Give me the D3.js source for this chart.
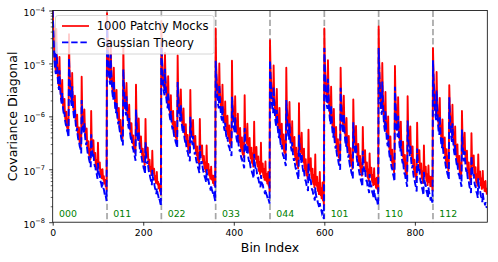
<!DOCTYPE html>
<html>
<head>
<meta charset="utf-8">
<script src="https://cdn.jsdelivr.net/npm/d3@7"></script>
<style>
  body { margin: 0; background: #fff; }
  svg { display: block; font-family: "DejaVu Sans", sans-serif; }
</style>
</head>
<body>
<svg id="chart" width="498" height="262"></svg>
<script>
// covariance diagonal per multipole block, stored as -100 * log10(value)
// (120 bins per block)
const mocks000 = [398,424,450,472,490,502,509,514,435,480,502,520,532,539,544,488,528,546,558,566,570,531,568,580,587,592,567,598,605,610,591,617,622,605,629,615,
  445,508,530,548,560,567,572,518,556,574,586,594,598,561,596,608,615,620,597,626,633,638,621,645,650,635,657,645,
  525,581,599,611,618,623,587,620,632,640,644,623,650,658,662,647,670,674,662,682,671,
  590,640,652,659,664,645,670,677,682,669,689,694,683,701,693,
  650,686,693,698,687,705,710,701,717,711,
  700,715,720,713,727,723,
  720,732,730,
  738];
const theory000 = [400,430,456,478,496,508,515,520,460,486,508,526,538,545,550,513,534,552,564,572,576,556,574,586,593,598,592,604,611,616,616,623,628,630,635,640,
  490,516,538,556,568,575,580,543,564,582,594,602,606,586,604,616,623,628,622,634,641,646,646,653,658,660,665,670,
  569,591,609,621,628,633,612,630,642,650,654,648,660,668,672,672,680,684,687,692,696,
  634,652,664,671,676,670,682,689,694,694,701,706,708,713,718,
  688,700,707,712,712,719,724,726,731,736,
  724,731,736,738,743,748,
  746,750,755,
  760];
const mocks011 = [405,446,471,492,509,521,527,532,458,500,521,538,549,556,561,508,546,563,575,581,586,550,584,595,602,607,584,613,619,624,607,631,636,621,642,630,
  465,527,547,565,576,583,588,537,573,590,601,608,613,578,611,622,629,634,613,639,646,651,636,658,662,650,669,659,
  540,596,613,625,632,636,604,634,645,652,657,638,663,669,674,661,681,686,675,692,684,
  605,653,664,671,676,659,681,688,693,682,700,704,696,711,705,
  665,697,703,708,699,715,720,713,726,722,
  705,724,729,724,736,734,
  728,741,740,
  748];
const theory011 = [425,454,479,500,517,529,535,540,483,508,529,546,557,564,569,533,554,571,583,589,594,575,592,603,610,615,609,621,627,632,632,639,644,646,650,655,
  511,537,557,575,586,593,598,562,583,600,611,618,623,603,621,632,639,644,638,649,656,661,661,668,672,675,679,684,
  587,608,625,637,644,648,629,646,657,664,669,663,675,681,686,686,693,698,700,704,709,
  649,667,678,685,690,684,695,702,707,707,714,718,721,725,730,
  701,713,719,724,724,731,736,738,742,747,
  736,742,747,749,754,759,
  756,761,765,
  770];
const mocks022 = [420,475,497,515,530,540,546,550,480,522,540,555,565,571,575,524,562,577,587,593,597,560,595,605,611,615,590,620,626,630,610,636,640,622,646,630,
  485,545,563,578,588,594,598,549,585,600,610,616,620,585,618,628,634,638,615,643,649,653,635,659,663,647,669,655,
  550,605,620,630,636,640,607,638,648,654,658,637,663,669,673,657,679,683,669,689,677,
  605,654,664,670,674,655,679,685,689,675,695,699,687,705,695,
  655,692,698,702,690,708,712,702,718,710,
  695,716,720,712,726,720,
  712,730,726,
  732];
const theory022 = [460,485,507,525,540,550,556,560,510,532,550,565,575,581,585,554,572,587,597,603,607,590,605,615,621,625,620,630,636,640,640,646,650,652,656,660,
  535,557,575,590,600,606,610,579,597,612,622,628,632,615,630,640,646,650,645,655,661,665,665,671,675,677,681,685,
  601,619,634,644,650,654,637,652,662,668,672,667,677,683,687,687,693,697,699,703,707,
  655,670,680,686,690,685,695,701,705,705,711,715,717,721,725,
  700,710,716,720,720,726,730,732,736,740,
  730,736,740,742,746,750,
  748,752,756,
  760];
const mocks033 = [434,503,522,539,552,561,566,570,500,545,561,575,584,589,593,540,581,594,603,609,612,572,611,620,625,629,599,633,638,642,617,647,651,628,656,635,
  495,565,582,595,604,609,613,562,601,615,624,629,633,595,631,640,645,649,622,654,659,663,640,668,672,650,677,658,
  560,619,633,642,647,651,614,649,658,663,667,641,671,677,680,659,686,689,670,695,677,
  610,663,672,677,681,658,686,691,695,676,700,704,686,709,694,
  650,697,702,706,689,711,715,700,720,707,
  685,718,722,709,727,716,
  705,731,721,
  742];
const theory033 = [495,518,537,554,567,576,581,585,540,560,576,590,599,604,608,580,596,609,618,624,627,612,626,635,640,644,639,648,653,657,657,662,666,668,671,675,
  563,582,599,612,621,626,630,602,618,632,641,646,650,635,648,657,662,666,662,671,676,680,680,685,689,690,694,698,
  622,638,652,661,666,670,654,668,677,682,686,681,690,696,699,699,705,708,710,714,717,
  671,684,693,698,702,698,707,712,716,716,721,725,726,730,734,
  711,720,725,729,729,734,738,740,743,747,
  738,743,747,749,752,756,
  754,758,761,
  765];
const mocks044 = [456,504,526,544,559,569,575,579,504,551,569,584,594,600,604,548,591,606,616,622,626,584,624,634,640,644,614,649,655,659,634,665,669,646,675,654,
  508,574,592,607,617,623,627,573,614,629,639,645,649,609,647,657,663,667,639,672,678,682,659,688,692,671,698,679,
  575,634,649,659,665,669,631,667,677,683,687,661,692,698,702,681,708,712,693,718,701,
  625,683,693,699,703,679,708,714,718,699,724,728,711,734,719,
  672,721,727,731,714,737,741,726,747,734,
  705,745,749,736,755,744,
  725,759,750,
  768];
const theory044 = [494,519,541,559,574,584,590,594,544,566,584,599,609,615,619,588,606,621,631,637,641,624,639,649,655,659,654,664,670,674,674,680,684,686,690,694,
  569,591,609,624,634,640,644,613,631,646,656,662,666,649,664,674,680,684,679,689,695,699,699,705,709,711,715,719,
  635,653,668,678,684,688,671,686,696,702,706,701,711,717,721,721,727,731,733,737,741,
  689,704,714,720,724,719,729,735,739,739,745,749,751,755,759,
  734,744,750,754,754,760,764,766,770,774,
  764,770,774,776,780,784,
  782,786,790,
  794];
const mocks101 = [434,488,513,534,551,563,569,574,494,542,563,580,591,598,603,544,588,605,617,623,628,586,626,637,644,649,620,655,661,666,643,673,678,657,684,666,
  508,557,578,595,606,613,618,561,603,620,632,638,643,603,641,652,659,664,637,670,676,681,660,688,693,674,699,683,
  568,616,633,645,651,656,618,654,665,672,677,652,683,689,694,675,701,706,689,712,698,
  620,664,675,682,687,664,693,699,704,687,711,716,701,722,710,
  670,701,707,712,697,719,724,711,730,720,
  698,724,729,718,735,727,
  716,737,731,
  742];
const theory101 = [471,500,525,546,563,575,581,586,529,554,575,592,603,610,615,579,600,617,629,635,640,621,638,649,656,661,655,667,673,678,678,685,690,692,696,701,
  546,571,592,609,620,627,632,596,617,634,646,652,657,638,655,666,673,678,672,684,690,695,695,702,707,709,713,718,
  611,632,649,661,667,672,653,670,681,688,693,687,699,705,710,710,717,722,724,728,733,
  665,682,693,700,705,699,711,717,722,722,729,734,736,740,745,
  709,721,727,732,732,739,744,746,750,755,
  739,746,751,753,757,762,
  757,761,766,
  769];
const mocks110 = [430,491,518,541,560,572,580,585,499,550,572,591,604,611,617,554,600,619,632,639,644,600,642,654,662,667,638,673,681,686,663,693,698,678,706,688,
  505,558,580,599,612,619,625,564,608,627,640,647,652,610,650,662,670,675,648,681,689,694,673,701,706,688,714,698,
  562,615,634,647,654,659,619,657,669,677,682,657,688,696,701,682,708,713,697,721,707,
  612,662,674,682,687,664,693,701,706,689,713,718,704,726,714,
  655,697,705,710,695,717,722,710,730,720,
  693,719,724,714,732,724,
  714,732,726,
  740];
const theory110 = [471,503,530,553,572,584,592,597,534,562,584,603,616,623,629,589,612,631,644,651,656,635,654,666,674,679,673,685,693,698,698,705,710,713,718,723,
  544,572,594,613,626,633,639,599,622,641,654,661,666,645,664,676,684,689,683,695,703,708,708,715,720,723,728,733,
  608,631,650,663,670,675,654,673,685,693,698,692,704,712,717,717,724,729,732,737,742,
  661,680,692,700,705,699,711,719,724,724,731,736,739,744,749,
  705,717,725,730,730,737,742,745,750,755,
  734,741,746,749,754,759,
  751,756,761,
  763];
const mocks112 = [471,510,535,555,572,584,590,595,516,563,584,601,612,619,623,565,609,626,637,644,648,606,646,657,664,668,640,674,681,685,662,692,697,676,703,685,
  541,574,595,612,623,630,634,578,620,637,648,655,659,619,657,668,675,679,653,685,692,696,675,703,708,689,714,698,
  590,630,647,658,665,669,631,667,678,685,689,665,695,702,706,687,713,718,701,724,710,
  632,674,685,692,696,674,702,709,713,696,720,725,710,731,719,
  672,708,715,719,704,726,731,718,737,727,
  703,730,735,724,741,733,
  722,742,736,
  748];
const theory112 = [494,522,547,567,584,596,602,607,551,575,596,613,624,631,635,600,621,638,649,656,660,641,658,669,676,680,675,686,693,697,697,704,709,711,715,720,
  564,588,609,626,637,644,648,613,634,651,662,669,673,654,671,682,689,693,688,699,706,710,710,717,722,724,728,733,
  625,646,663,674,681,685,666,683,694,701,705,700,711,718,722,722,729,734,736,740,745,
  675,692,703,710,714,709,720,727,731,731,738,743,745,749,754,
  717,728,735,739,739,746,751,753,757,762,
  745,752,757,759,763,768,
  762,766,771,
  773];

const blockLabels = ["000", "011", "022", "033", "044", "101", "110", "112"];
const binsPerBlock = 120;
const xTicks = [0, 200, 400, 600, 800];
const yTickExps = [-8, -7, -6, -5, -4];

const mocksAll = [mocks000, mocks011, mocks022, mocks033, mocks044, mocks101, mocks110, mocks112]
  .flat().map((v) => Math.pow(10, -v / 100));
const theoryAll = [theory000, theory011, theory022, theory033, theory044, theory101, theory110, theory112]
  .flat().map((v) => Math.pow(10, -v / 100));

const width = 498;
const height = 262;
const margin = { top: 10.5, right: 10.7, bottom: 39.8, left: 52.7 };
const plotW = width - margin.left - margin.right;
const plotH = height - margin.top - margin.bottom;
const lineW = 1.9;
const dash = "7,3";

const svg = d3.select("#chart");

const x = d3.scaleLinear().domain([0, blockLabels.length * binsPerBlock]).range([margin.left, margin.left + plotW]);
const y = d3.scaleLog().domain([1e-8, 1e-4]).range([margin.top + plotH, margin.top]);

svg.append("defs").append("clipPath").attr("id", "plot-clip")
  .append("rect")
  .attr("x", margin.left).attr("y", margin.top)
  .attr("width", plotW).attr("height", plotH);

// block separators
const seps = d3.range(1, blockLabels.length).map((b) => b * binsPerBlock);
svg.append("g")
  .selectAll("line")
  .data(seps)
  .enter()
  .append("line")
  .attr("x1", (d) => x(d)).attr("x2", (d) => x(d))
  .attr("y1", margin.top).attr("y2", margin.top + plotH)
  .attr("stroke", "#808080")
  .attr("stroke-opacity", 0.7)
  .attr("stroke-width", 1.7)
  .attr("stroke-dasharray", "6.4,2.8");

const line = d3.line()
  .x((d, i) => x(i))
  .y((d) => y(d));

const plot = svg.append("g").attr("clip-path", "url(#plot-clip)");

plot.append("path")
  .datum(mocksAll)
  .attr("d", line)
  .attr("fill", "none")
  .attr("stroke", "#ff0000")
  .attr("stroke-width", lineW)
  .attr("stroke-linejoin", "round");

plot.append("path")
  .datum(theoryAll)
  .attr("d", line)
  .attr("fill", "none")
  .attr("stroke", "#0000ff")
  .attr("stroke-width", lineW)
  .attr("stroke-dasharray", dash);

// block labels
svg.append("g")
  .selectAll("text")
  .data(blockLabels)
  .enter()
  .append("text")
  .attr("x", (d, i) => x(i * binsPerBlock + 14))
  .attr("y", y(1.25e-8))
  .attr("fill", "green")
  .attr("font-size", "9.4px")
  .text((d) => d);

// axes
const xAxis = d3.axisBottom(x)
  .tickValues(xTicks)
  .tickSize(3.5)
  .tickSizeOuter(0)
  .tickPadding(3.5)
  .tickFormat(d3.format("d"));

const gx = svg.append("g")
  .attr("transform", `translate(0,${margin.top + plotH})`)
  .call(xAxis);
gx.select(".domain").remove();
gx.selectAll("line").attr("stroke", "#000").attr("stroke-width", 0.8);
gx.selectAll("text")
  .attr("font-family", "DejaVu Sans")
  .attr("font-size", "9.3px")
  .attr("fill", "#000");

const minorY = [];
for (let e = -8; e < -4; e++) {
  for (let m = 2; m < 10; m++) minorY.push(m * Math.pow(10, e));
}

const gyMinor = svg.append("g")
  .attr("transform", `translate(${margin.left},0)`)
  .call(d3.axisLeft(y).tickValues(minorY).tickSize(2).tickSizeOuter(0).tickFormat(""));
gyMinor.select(".domain").remove();
gyMinor.selectAll("line").attr("stroke", "#000").attr("stroke-width", 0.6);

const gy = svg.append("g")
  .attr("transform", `translate(${margin.left},0)`)
  .call(d3.axisLeft(y).tickValues(yTickExps.map((e) => Math.pow(10, e))).tickSize(3.5).tickSizeOuter(0).tickFormat(""));
gy.select(".domain").remove();
gy.selectAll("line").attr("stroke", "#000").attr("stroke-width", 0.8);

const yLabels = svg.append("g")
  .selectAll("text")
  .data(yTickExps)
  .enter()
  .append("text")
  .attr("x", margin.left - 7.7)
  .attr("y", (d) => y(Math.pow(10, d)) + 5.3)
  .attr("text-anchor", "end")
  .attr("font-size", "9.2px")
  .attr("fill", "#000");
yLabels.append("tspan").text("10");
yLabels.append("tspan")
  .attr("dy", -4.2)
  .attr("font-size", "6.6px")
  .text((d) => "\u2212" + Math.abs(d));

// frame
svg.append("rect")
  .attr("x", margin.left).attr("y", margin.top)
  .attr("width", plotW).attr("height", plotH)
  .attr("fill", "none")
  .attr("stroke", "#000")
  .attr("stroke-width", 0.8);

// axis titles
svg.append("text")
  .attr("x", margin.left + plotW / 2)
  .attr("y", 251.7)
  .attr("text-anchor", "middle")
  .attr("font-size", "12.5px")
  .text("Bin Index");

svg.append("text")
  .attr("transform", `translate(16.5,${margin.top + plotH / 2}) rotate(-90)`)
  .attr("text-anchor", "middle")
  .attr("font-size", "12.5px")
  .text("Covariance Diagonal");

// legend
const legend = svg.append("g");
legend.append("rect")
  .attr("x", 55.5).attr("y", 15.5)
  .attr("width", 158.5).attr("height", 38.5)
  .attr("rx", 2.5)
  .attr("fill", "#fff")
  .attr("fill-opacity", 0.8)
  .attr("stroke", "#cccccc")
  .attr("stroke-width", 0.8);

const legendItems = [
  { label: "1000 Patchy Mocks", color: "#ff0000", dash: null },
  { label: "Gaussian Theory", color: "#0000ff", dash: "6.4,2.8" },
];

legendItems.forEach((item, i) => {
  const ly = 26 + i * 16.4;
  legend.append("line")
    .attr("x1", 62).attr("x2", 89)
    .attr("y1", ly).attr("y2", ly)
    .attr("stroke", item.color)
    .attr("stroke-width", 1.7)
    .attr("stroke-dasharray", item.dash);
  legend.append("text")
    .attr("x", 96.7)
    .attr("y", ly + 4.2)
    .attr("font-size", "11.6px")
    .text(item.label);
});
</script>
</body>
</html>
